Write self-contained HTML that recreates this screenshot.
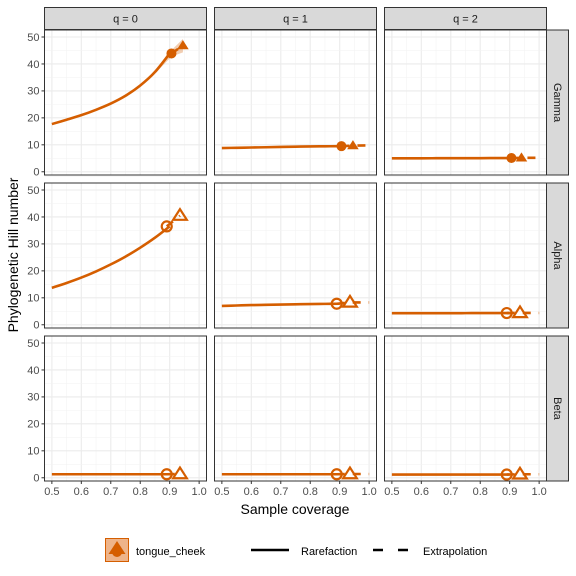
<!DOCTYPE html>
<html><head><meta charset="utf-8"><style>
body{margin:0;background:#fff}
svg{display:block;font-family:"Liberation Sans",sans-serif}
</style></head><body>
<svg id="c" width="576" height="576" viewBox="0 0 576 576"></svg>
<script>
const qLabels=["q = 0","q = 1","q = 2"];
const rowLabels=["Gamma","Alpha","Beta"];
const xTicks=[0.5,0.6,0.7,0.8,0.9,1.0];
const xTickLabels=["0.5","0.6","0.7","0.8","0.9","1.0"];
const yTicks=[0,10,20,30,40,50];
const rareCov=[0.5,0.55,0.6,0.65,0.7,0.75,0.8,0.85,0.9];
const rareVals=[
 [[17.7,19.3,21.0,23.0,25.3,28.2,32.0,37.0,43.9],[8.8,8.9,9.0,9.1,9.2,9.3,9.4,9.45,9.5],[5.0,5.0,5.0,5.02,5.05,5.05,5.05,5.08,5.1]],
 [[13.7,15.5,17.5,19.8,22.4,25.3,28.6,32.3,36.5],[7.0,7.15,7.3,7.4,7.5,7.6,7.7,7.75,7.8],[4.3,4.3,4.3,4.3,4.3,4.32,4.35,4.35,4.35]],
 [[1.3,1.3,1.3,1.3,1.3,1.3,1.3,1.3,1.3],[1.3,1.3,1.3,1.3,1.3,1.3,1.3,1.3,1.3],[1.2,1.2,1.2,1.2,1.2,1.2,1.2,1.2,1.2]]
];
const obsCov=[[0.906,0.906,0.906],[0.89,0.89,0.89],[0.89,0.89,0.89]];
const obsVals=[[43.9,9.5,5.1],[36.5,7.8,4.35],[1.3,1.3,1.2]];
const extCov=[[0.945,0.945,0.94],[0.935,0.935,0.935],[0.935,0.935,0.935]];
const extVals=[[46.8,9.7,5.15],[40.5,8.3,4.4],[1.4,1.4,1.3]];
const extEndCov=[[0.945,1.0,1.0],[0.935,1.0,1.0],[0.935,1.0,1.0]];
const extEndVals=[[46.8,9.8,5.2],[40.5,8.3,4.4],[1.4,1.4,1.3]];

const C="#D55E00",NS="http://www.w3.org/2000/svg",svg=document.getElementById('c');
function mk(t,a,p){const e=document.createElementNS(NS,t);for(const k in a)e.setAttribute(k,a[k]);(p||svg).appendChild(e);return e;}
const colX=[44.5,214.5,384.5],pw=162,rowY=[30,183,336],ph=145;
const xmin=0.475,xmax=1.025,ymin=-1.2,ymax=52.6;
function sx(c,v){return colX[c]+(v-xmin)/(xmax-xmin)*pw;}
function sy(r,v){return rowY[r]+ph-(v-ymin)/(ymax-ymin)*ph;}
for(let r=0;r<3;r++)for(let c=0;c<3;c++){
 const g=mk('g',{});
 
 
 mk('rect',{x:colX[c],y:rowY[r],width:pw,height:ph,fill:'#fff'},g);
 for(let i=0;i<xTicks.length;i++){const x=sx(c,xTicks[i]);mk('line',{x1:x,x2:x,y1:rowY[r],y2:rowY[r]+ph,stroke:'#ebebeb','stroke-width':1.1},g);
  if(i<xTicks.length-1){const xm=sx(c,xTicks[i]+0.05);mk('line',{x1:xm,x2:xm,y1:rowY[r],y2:rowY[r]+ph,stroke:'#f3f3f3','stroke-width':0.6},g);}}
 for(let i=0;i<yTicks.length;i++){const y=sy(r,yTicks[i]);mk('line',{x1:colX[c],x2:colX[c]+pw,y1:y,y2:y,stroke:'#ebebeb','stroke-width':1.1},g);
  const ym=sy(r,yTicks[i]+5);mk('line',{x1:colX[c],x2:colX[c]+pw,y1:ym,y2:ym,stroke:'#f3f3f3','stroke-width':0.6},g);}
 if(r==0&&c==0){const ox0=obsCov[r][c],oy0=obsVals[r][c],ex=extCov[r][c],ey=extVals[r][c];
  const p=`M${sx(c,0.84)},${sy(r,36.5)} L${sx(c,ox0)},${sy(r,oy0+1.2)} L${sx(c,ex)},${sy(r,ey+2.5)} L${sx(c,ex)},${sy(r,ey-2.5)} L${sx(c,ox0)},${sy(r,oy0-1.2)} L${sx(c,0.84)},${sy(r,35.3)}Z`;
  const rb=mk('path',{d:p,fill:C,opacity:0.3},g);}
 let d='';
 const xs=rareCov,ys=rareVals[r][c];
 d+=`M${sx(c,xs[0])},${sy(r,ys[0])}`;
 for(let i=0;i<xs.length-1;i++){const p0=i?i-1:i,p3=i+2<xs.length?i+2:i+1;
  const x1=sx(c,xs[i]),y1=sy(r,ys[i]),x2=sx(c,xs[i+1]),y2=sy(r,ys[i+1]);
  const c1x=x1+(x2-sx(c,xs[p0]))/6,c1y=y1+(y2-sy(r,ys[p0]))/6,c2x=x2-(sx(c,xs[p3])-x1)/6,c2y=y2-(sy(r,ys[p3])-y1)/6;
  d+=` C${c1x},${c1y} ${c2x},${c2y} ${x2},${y2}`;}
 const rl=mk('path',{d:d,fill:'none',stroke:C,'stroke-width':2.6},g);
 
 const el=mk('path',{d:`M${sx(c,obsCov[r][c])},${sy(r,obsVals[r][c])} L${sx(c,extCov[r][c])},${sy(r,extVals[r][c])} L${sx(c,extEndCov[r][c])},${sy(r,extEndVals[r][c])}`,fill:'none',stroke:C,'stroke-width':2.6,'stroke-dasharray':'8 8'},g);
 
 const open=r>0;
 const ox=sx(c,obsCov[r][c]),oy=sy(r,obsVals[r][c]);
 const pt=mk('circle',{cx:ox,cy:oy,r:5,fill:open?'none':C,stroke:C,'stroke-width':open?2.2:0},g);
 
 const tx=sx(c,extCov[r][c]),ty=sy(r,extVals[r][c]);const s=open?6.5:5.5;
 const tr=mk('polygon',{points:`${tx},${ty-s} ${tx-s*1.05},${ty+s*0.65} ${tx+s*1.05},${ty+s*0.65}`,fill:open?'none':C,stroke:C,'stroke-width':open?2.2:0},g);
 
 mk('rect',{x:colX[c],y:rowY[r],width:pw,height:ph,fill:'none',stroke:'#333','stroke-width':1},g);
 if(c==0){for(const v of yTicks){const y=sy(r,v);mk('line',{x1:colX[c]-3,x2:colX[c],y1:y,y2:y,stroke:'#333'},g);
  const t=mk('text',{x:colX[c]-5,y:y+3.8,'text-anchor':'end','font-size':11,fill:'#4d4d4d'},g);t.textContent=v;}}
 if(r==2){for(let i=0;i<xTicks.length;i++){const x=sx(c,xTicks[i]);mk('line',{x1:x,x2:x,y1:rowY[r]+ph,y2:rowY[r]+ph+3,stroke:'#333'},g);
  const t=mk('text',{x:x,y:rowY[r]+ph+14,'text-anchor':'middle','font-size':11,fill:'#4d4d4d'},g);t.textContent=xTickLabels[i];}}
}
for(let c=0;c<3;c++){const g=mk('g',{});
 mk('rect',{x:colX[c],y:7.5,width:pw,height:22,fill:'#d9d9d9',stroke:'#333','stroke-width':1},g);
 const t=mk('text',{x:colX[c]+pw/2,y:22.5,'text-anchor':'middle','font-size':11,fill:'#1a1a1a'},g);t.textContent=qLabels[c];}
for(let r=0;r<3;r++){const g=mk('g',{});
 mk('rect',{x:546.5,y:rowY[r],width:22,height:ph,fill:'#d9d9d9',stroke:'#333','stroke-width':1},g);
 const cy=rowY[r]+ph/2;const t=mk('text',{x:554,y:cy,'text-anchor':'middle','font-size':11,fill:'#1a1a1a',transform:`rotate(90 554 ${cy})`},g);t.textContent=rowLabels[r];}
let t=mk('text',{x:295,y:514,'text-anchor':'middle','font-size':14,fill:'#000'});t.textContent='Sample coverage';
t=mk('text',{x:18,y:255,'text-anchor':'middle','font-size':14,fill:'#000',transform:'rotate(-90 18 255)'});t.textContent='Phylogenetic Hill number';
const lg=mk('g',{});
const k=mk('g',{},lg);
mk('rect',{x:105.5,y:538.5,width:23,height:23,fill:'#eeb48a',stroke:C,'stroke-width':1},k);
mk('polygon',{points:'117,541 108.5,554 125.5,554',fill:C},k);
mk('circle',{cx:117,cy:552,r:5,fill:C},k);
t=mk('text',{x:136,y:555,'font-size':11,fill:'#000'},k);t.textContent='tongue_cheek';
const k2=mk('g',{},lg);
mk('line',{x1:251,x2:289,y1:550,y2:550,stroke:'#000','stroke-width':2.6},k2);
t=mk('text',{x:301,y:555,'font-size':11,fill:'#000'},k2);t.textContent='Rarefaction';
const k3=mk('g',{},lg);
mk('line',{x1:373,x2:411,y1:550,y2:550,stroke:'#000','stroke-width':2.6,'stroke-dasharray':'10 15'},k3);
t=mk('text',{x:423,y:555,'font-size':11,fill:'#000'},k3);t.textContent='Extrapolation';
</script>
</body></html>
